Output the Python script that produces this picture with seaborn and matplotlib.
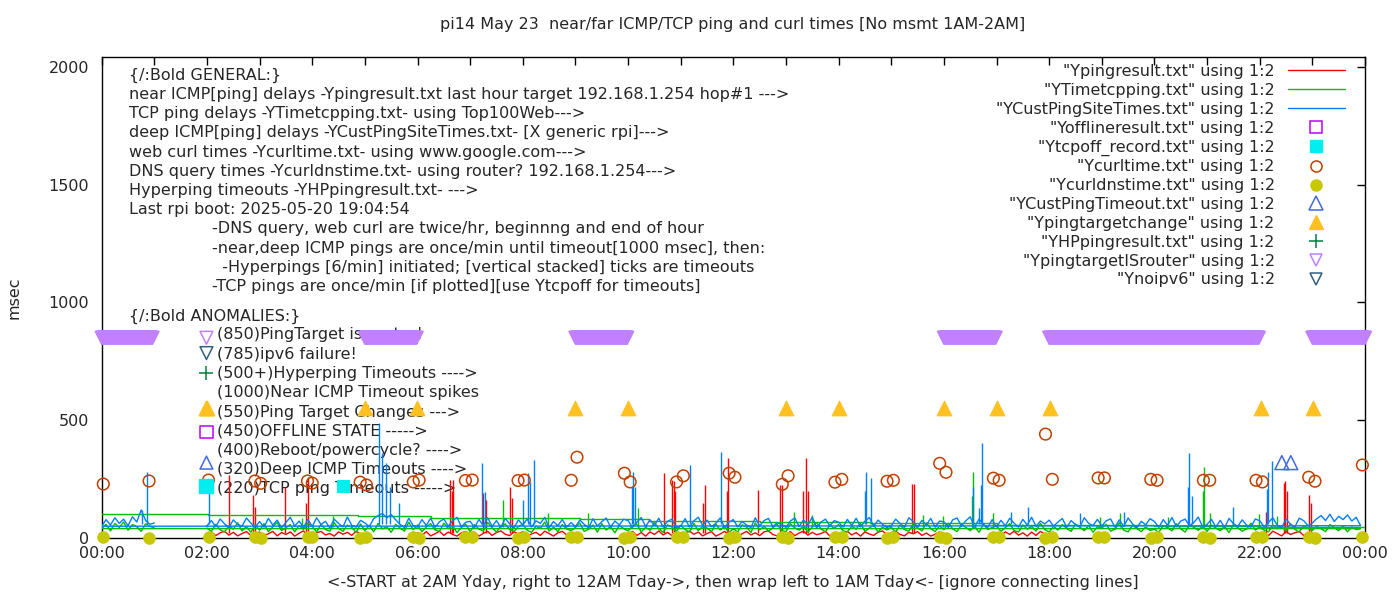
import numpy as np
import pandas as pd
import matplotlib
matplotlib.use('Agg')
import matplotlib.pyplot as plt
from matplotlib.lines import Line2D
import seaborn as sns

W, H = 1400, 600

# -----------------------------------------------------------------------------
# Data (hours of day, msec)
# -----------------------------------------------------------------------------
STEP_MIN = 5  # line series are sampled every 5 minutes

# near ICMP ping (red), one row per hour 02..23, None = no data (target is router)
near_rows = [
    [14, 26, 10, 22, 29, 12, 24, 9, 19, 27, 11, 21],
    [25, 11, 18, 28, 9, 23, 15, 26, 8, 20, 30, 13],
    [10, 22, 28, 13, 19, 8, 26, 16, 24, 11, 29, 17],
    None,
    [23, 12, 27, 9, 18, 29, 11, 25, 15, 8, 22, 28],
    [13, 25, 8, 20, 28, 11, 23, 30, 16, 10, 26, 18],
    [27, 9, 17, 24, 11, 29, 19, 8, 22, 28, 13, 25],
    None,
    [18, 28, 11, 23, 8, 26, 15, 30, 13, 24, 10, 21],
    [11, 22, 29, 16, 25, 9, 19, 27, 8, 17, 28, 12],
    [25, 8, 18, 28, 13, 22, 10, 26, 30, 15, 9, 20],
    [16, 27, 10, 21, 29, 12, 24, 14, 19, 28, 8, 22],
    [9, 20, 28, 13, 23, 8, 26, 17, 11, 25, 30, 14],
    [22, 29, 15, 9, 24, 18, 27, 11, 21, 8, 16, 26],
    None,
    [19, 9, 26, 15, 29, 12, 22, 8, 25, 11, 28, 17],
    None, None, None, None,
    [12, 25, 10, 29, 19, 9, 27, 15, 22, 28, 11, 24],
    None,
]
near_spike_h = [2.42, 2.88, 2.92, 3.48, 3.88, 3.91, 6.62, 6.65, 6.68, 7.24, 7.30, 7.76,
                7.79, 10.69, 10.83, 10.87, 10.90, 11.42, 11.46, 11.88, 11.90, 12.47,
                12.89, 12.92, 13.33, 13.38, 13.42, 15.39, 15.43, 22.12, 22.46, 22.48,
                22.51, 22.94, 22.97]
near_spike_ms = [268, 183, 133, 218, 150, 261, 246, 200, 246, 190, 160, 218,
                 170, 276, 245, 240, 200, 150, 225, 200, 339, 204,
                 225, 225, 199, 339, 200, 230, 230, 112, 233, 240,
                 200, 183, 150]

# TCP ping (green): today 00:00..01:00, then yesterday rows 02..23
tcp_tday = [40, 58, 30, 62, 45, 68, 33, 57, 48, 28, 60, 50, 42]
tcp_rows = [
    [42, 28, 58, 35, 25, 52, 38, 64, 30, 49, 24, 56],
    [33, 61, 27, 47, 66, 31, 44, 57, 26, 53, 37, 63],
    [50, 25, 59, 36, 29, 65, 41, 28, 55, 46, 23, 60],
    [31, 54, 26, 62, 39, 48, 24, 58, 43, 29, 67, 35],
    [55, 27, 47, 61, 34, 28, 63, 40, 52, 23, 45, 58],
    [26, 57, 38, 30, 66, 44, 25, 51, 60, 36, 28, 49],
    [59, 33, 24, 50, 41, 68, 29, 46, 27, 57, 39, 31],
    [45, 64, 28, 37, 55, 25, 61, 34, 48, 22, 53, 40],
    [30, 52, 58, 26, 45, 33, 67, 39, 24, 56, 47, 28],
    [54, 36, 25, 62, 31, 49, 42, 27, 59, 34, 51, 23],
    [39, 26, 56, 47, 23, 64, 35, 50, 29, 44, 58, 32],
    [27, 60, 43, 33, 53, 24, 48, 66, 38, 26, 55, 41],
    [57, 31, 26, 50, 38, 62, 28, 42, 56, 25, 46, 34],
    [46, 24, 55, 36, 29, 59, 43, 30, 64, 40, 27, 52],
    [35, 63, 39, 27, 56, 45, 31, 51, 24, 58, 37, 44],
    [52, 28, 44, 61, 32, 25, 55, 38, 49, 29, 62, 36],
    [25, 50, 34, 57, 41, 28, 60, 46, 31, 53, 24, 48],
    [43, 58, 29, 38, 65, 33, 26, 54, 40, 27, 47, 32],
    [37, 24, 53, 44, 30, 61, 39, 25, 56, 45, 33, 50],
    [28, 55, 42, 31, 49, 23, 58, 44, 29, 38, 63, 34],
    [48, 33, 26, 56, 40, 51, 30, 60, 37, 25, 53, 41],
    [32, 50, 39, 27, 57, 44, 31, 52, 26, 47, 36, 40],
]
tcp_spike_h = [3.80, 4.40, 7.63, 8.48, 9.24, 10.19, 13.16, 13.50, 15.60, 15.98, 16.54,
               16.56, 16.93, 18.96, 19.34, 20.26, 20.93, 20.95, 21.05, 21.99, 22.33]
tcp_spike_ms = [85, 95, 161, 106, 106, 127, 112, 98, 98, 95, 180,
                282, 106, 90, 106, 90, 200, 303, 106, 100, 95]
# stepped connecting lines of the TCP file
tcp_wrap_h = [0.0, 0.65, 2.02, 4.87, 6.26, 9.08, 10.4, 12.5, 14.6, 17.0, 20.0, 22.0, 24.0]
tcp_wrap_ms = [104, 101, 96, 92, 86, 80, 72, 67, 62, 55, 50, 45, 45]

# deep ICMP ping (blue): today 00:00..01:00, then yesterday rows 02..23
cust_tday = [50, 78, 55, 86, 62, 80, 52, 90, 68, 119, 75, 58, 64]
cust_rows = [
    [52, 74, 48, 81, 60, 45, 77, 58, 50, 85, 63, 47],
    [70, 46, 83, 55, 76, 44, 66, 88, 51, 72, 45, 79],
    [49, 86, 57, 71, 43, 80, 62, 47, 89, 54, 46, 75],
    [64, 48, 82, 95, 104, 86, 99, 78, 58, 44, 84, 53],
    [46, 78, 54, 84, 45, 69, 81, 50, 73, 88, 47, 67],
    [71, 44, 79, 52, 86, 49, 74, 45, 83, 60, 43, 77],
    [55, 81, 47, 73, 62, 88, 44, 70, 52, 79, 46, 66],
    [48, 76, 58, 43, 82, 51, 69, 85, 47, 72, 55, 80],
    [74, 45, 67, 87, 49, 77, 53, 84, 46, 71, 80, 44],
    [50, 82, 46, 73, 88, 54, 76, 48, 62, 85, 45, 68],
    [78, 47, 70, 55, 44, 86, 51, 74, 83, 48, 65, 57],
    [45, 72, 85, 49, 77, 56, 89, 43, 68, 80, 52, 74],
    [67, 46, 79, 53, 84, 47, 71, 87, 50, 76, 58, 44],
    [53, 80, 62, 45, 86, 70, 48, 75, 56, 83, 46, 72],
    [69, 44, 77, 85, 51, 73, 90, 47, 80, 58, 45, 78],
    [47, 75, 52, 84, 63, 46, 79, 55, 88, 49, 72, 60],
    [76, 50, 68, 83, 45, 74, 57, 47, 86, 62, 53, 79],
    [51, 73, 81, 46, 77, 49, 85, 60, 44, 71, 56, 82],
    [70, 45, 78, 54, 87, 48, 72, 80, 52, 66, 89, 46],
    [58, 79, 47, 75, 44, 83, 61, 50, 77, 55, 46, 81],
    [73, 48, 66, 86, 53, 45, 80, 59, 47, 84, 74, 52],
    [64, 82, 95, 74, 101, 70, 92, 78, 98, 72, 88, 52],
]
cust_spike_h = [0.76, 0.855, 2.04, 5.27, 5.32, 5.41, 5.48, 5.65, 7.22, 7.28, 8.01, 8.10,
                8.14, 8.22, 10.07, 10.09, 10.13, 11.18, 11.76, 14.50, 14.52, 14.61,
                16.56, 16.67, 16.70, 16.72, 17.27, 17.60, 18.59, 19.43, 20.64, 20.66,
                20.71, 21.49, 22.14, 22.16, 22.24]
cust_spike_ms = [119, 282, 225, 489, 361, 318, 218, 149, 318, 197, 161, 276,
                 239, 331, 218, 282, 218, 310, 367, 200, 282, 254,
                 218, 127, 225, 402, 110, 133, 106, 110, 215, 360,
                 180, 130, 210, 282, 329]

# web curl times (open circles) and DNS query times (filled circles)
curl_h = [0.03, 0.90, 2.03, 2.91, 3.02, 3.91, 4.00, 4.91, 5.03, 5.92, 6.03, 6.91, 7.04,
          7.91, 8.03, 8.92, 9.03, 9.93, 10.04, 10.92, 11.05, 11.92, 12.03, 12.93, 13.04,
          13.93, 14.06, 14.92, 15.04, 15.92, 16.04, 16.94, 17.05, 17.93, 18.06, 18.93,
          19.05, 19.93, 20.05, 20.93, 21.05, 21.93, 22.05, 22.93, 23.05, 23.95]
curl_ms = [229, 242, 246, 242, 232, 242, 233, 237, 225, 238, 246, 244, 246,
           244, 246, 245, 343, 275, 238, 238, 264, 275, 258, 228, 264,
           237, 249, 241, 245, 317, 279, 254, 245, 441, 249, 255,
           255, 249, 245, 245, 245, 245, 238, 258, 241, 310]
dns_ms = [3, 2, 4, 3, 2, 3, 4, 2, 3, 3, 2, 4, 3,
          2, 3, 4, 3, 2, 3, 3, 4, 2, 3, 3, 2,
          4, 3, 2, 3, 3, 2, 4, 3, 2, 3, 3,
          4, 2, 3, 3, 2, 3, 4, 3, 2, 3]

tcpoff_h, tcpoff_ms = [4.59], [220]
custtimeout_h, custtimeout_ms = [22.42, 22.59], [320, 320]
target_change_h = [2.0, 5.0, 5.99, 9.0, 10.0, 13.0, 14.0, 16.0, 17.01, 18.01, 22.02, 23.01]
target_change_ms = [550] * len(target_change_h)

# ping target is router: once per minute inside these spans (minutes of day)
router_on_min = [0, 300, 540, 960, 1080, 1380]
router_off_min = [58, 359, 599, 1019, 1319, 1440]
router_ms = 850

# key symbols in front of the anomaly notes
anomaly_key_h = 1.99
anomaly_key_ms = [850, 785, 700, 550, 450, 320, 220]

title = "pi14 May 23  near/far ICMP/TCP ping and curl times [No msmt 1AM-2AM]"
xlabel = ("<-START at 2AM Yday, right to 12AM Tday->, then wrap left to 1AM Tday<- "
          "[ignore connecting lines]")
general_notes = [
    "{/:Bold GENERAL:}",
    "near ICMP[ping] delays -Ypingresult.txt last hour target 192.168.1.254 hop#1 --->",
    "TCP ping delays -YTimetcpping.txt- using Top100Web--->",
    "deep ICMP[ping] delays -YCustPingSiteTimes.txt- [X generic rpi]--->",
    "web curl times -Ycurltime.txt- using www.google.com--->",
    "DNS query times -Ycurldnstime.txt- using router? 192.168.1.254--->",
    "Hyperping timeouts -YHPpingresult.txt- --->",
    "Last rpi boot: 2025-05-20 19:04:54",
    "-DNS query, web curl are twice/hr, beginnng and end of hour",
    "-near,deep ICMP pings are once/min until timeout[1000 msec], then:",
    "  -Hyperpings [6/min] initiated; [vertical stacked] ticks are timeouts",
    "-TCP pings are once/min [if plotted][use Ytcpoff for timeouts]",
]
anomaly_notes = [
    "(850)PingTarget is router!",
    "(785)ipv6 failure!",
    "(500+)Hyperping Timeouts ---->",
    "(1000)Near ICMP Timeout spikes",
    "(550)Ping Target Changes --->",
    "(450)OFFLINE STATE ----->",
    "(400)Reboot/powercycle? ---->",
    "(320)Deep ICMP Timeouts ---->",
    "(220)TCP ping Timeouts ----->",
]

# gnuplot classic colours
C_RED, C_GREEN, C_BLUE = '#ff0000', '#00c000', '#0080ff'
C_MAG, C_CYAN, C_BROWN, C_OLIVE = '#c000ff', '#00eeee', '#c04000', '#c8c800'
C_ROYAL, C_GOLD, C_DKGREEN, C_LAV, C_SLATE = '#4169e1', '#ffc020', '#008040', '#c080ff', '#306080'

# -----------------------------------------------------------------------------
# Build frames
# -----------------------------------------------------------------------------
def grid(start_h, n):
    return start_h + np.arange(n) * STEP_MIN / 60.0


def rows_to_values(rows):
    vals = []
    for r in rows:
        vals.extend([np.nan] * 12 if r is None else r)
    return np.array(vals, dtype=float)


near_vals = rows_to_values(near_rows)
near_df = pd.DataFrame({'h': grid(2, len(near_vals)), 'ms': near_vals})
near_df['seg'] = near_df['ms'].isna().cumsum()
near_df = near_df.dropna()

# file order: yesterday 02:00..23:55 then today 00:00..01:00
tcp_vals = rows_to_values(tcp_rows)
tcp_df = pd.DataFrame({'h': np.concatenate([grid(2, len(tcp_vals)), grid(0, len(tcp_tday))]),
                       'ms': np.concatenate([tcp_vals, tcp_tday])})
cust_vals = rows_to_values(cust_rows)
cust_df = pd.DataFrame({'h': np.concatenate([grid(2, len(cust_vals)), grid(0, len(cust_tday))]),
                        'ms': np.concatenate([cust_vals, cust_tday])})

router_h = np.concatenate([np.arange(a, b + 1) / 60.0 for a, b in zip(router_on_min, router_off_min)])

# -----------------------------------------------------------------------------
# Plot
# -----------------------------------------------------------------------------
FS = 11.5
sns.set_style('white')
plt.rcParams['font.family'] = ['DejaVu Sans']
plt.rcParams['font.size'] = FS

fig = plt.figure(figsize=(W / 100, H / 100), dpi=100)
x0, x1, y0, y1 = 101.7, 1365, 57, 538
ax = fig.add_axes([x0 / W, 1 - y1 / H, (x1 - x0) / W, (y1 - y0) / H])

lw = 1.0
slw = 1.0
sns.lineplot(data=near_df, x='h', y='ms', units='seg', estimator=None, sort=False,
             color=C_RED, lw=lw, ax=ax, legend=False, zorder=2)
ax.vlines(near_spike_h, 20, near_spike_ms, color=C_RED, lw=slw, zorder=2)

sns.lineplot(data=tcp_df, x='h', y='ms', estimator=None, sort=False,
             color=C_GREEN, lw=lw, ax=ax, legend=False, zorder=3)
sns.lineplot(x=tcp_wrap_h, y=tcp_wrap_ms, drawstyle='steps-post', estimator=None,
             color=C_GREEN, lw=lw, ax=ax, legend=False, zorder=3)
ax.vlines(tcp_spike_h, 45, tcp_spike_ms, color=C_GREEN, lw=slw, zorder=3)

sns.lineplot(data=cust_df, x='h', y='ms', estimator=None, sort=False,
             color=C_BLUE, lw=lw, ax=ax, legend=False, zorder=4)
ax.vlines(cust_spike_h, 60, cust_spike_ms, color=C_BLUE, lw=slw, zorder=4)

pts = dict(ax=ax, legend=False, clip_on=False, zorder=5)
sns.scatterplot(x=tcpoff_h, y=tcpoff_ms, marker='s', s=81, color=C_CYAN, edgecolor=C_CYAN, **pts)
sns.scatterplot(x=curl_h, y=curl_ms, marker='o', s=70, facecolor='none', edgecolor=C_BROWN,
                linewidth=1.1, **pts)
sns.scatterplot(x=curl_h, y=dns_ms, marker='o', s=70, color=C_OLIVE, edgecolor=C_OLIVE, **pts)
sns.scatterplot(x=custtimeout_h, y=custtimeout_ms, marker='^', s=100, facecolor='none',
                edgecolor=C_ROYAL, linewidth=1.1, **pts)
sns.scatterplot(x=target_change_h, y=target_change_ms, marker='^', s=110, color=C_GOLD,
                edgecolor=C_GOLD, **pts)
sns.scatterplot(x=router_h, y=[router_ms] * len(router_h), marker='v', s=85, facecolor='none',
                edgecolor=C_LAV, linewidth=1.1, **pts)

# key symbols for the anomaly notes
key_styles = [('v', C_LAV, False), ('v', C_SLATE, False), ('+', C_DKGREEN, None),
              ('^', C_GOLD, True), ('s', C_MAG, False), ('^', C_ROYAL, False), ('s', C_CYAN, True)]
for val, (m, c, filled) in zip(anomaly_key_ms, key_styles):
    if filled is None:
        ax.scatter([anomaly_key_h], [val], marker=m, s=90, color=c, linewidth=1.1, zorder=5, clip_on=False)
    elif filled:
        ax.scatter([anomaly_key_h], [val], marker=m, s=90 if m == 's' else 110, color=c, zorder=5, clip_on=False)
    else:
        ax.scatter([anomaly_key_h], [val], marker=m, s=85, facecolor='none', edgecolor=c,
                   linewidth=1.1, zorder=5, clip_on=False)

# notes
for k, line in enumerate(general_notes):
    px = 129 if k < 8 else 212
    ax.text(px / W, 1 - (75 + k * 19.25) / H, line, transform=fig.transFigure,
            va='center', ha='left', fontsize=FS, zorder=1)
ax.text(129 / W, 1 - 316 / H, "{/:Bold ANOMALIES:}", transform=fig.transFigure,
        va='center', ha='left', fontsize=FS, zorder=1)
for k, line in enumerate(anomaly_notes):
    ax.text(217 / W, 1 - (335 + k * 19.25) / H, line, transform=fig.transFigure,
            va='center', ha='left', fontsize=FS, zorder=1)

# axes
ax.set_xlim(0, 24)
ax.set_ylim(0, 2042)
ax.set_xticks(range(0, 25, 2))
ax.set_xticklabels([f"{h % 24:02d}:00" for h in range(0, 25, 2)])
ax.set_xticks(range(0, 25), minor=True)
ax.set_yticks([0, 500, 1000, 1500, 2000])
ax.tick_params(which='both', direction='in', top=True, right=True, length=6, width=1,
               labelsize=FS, color='black')
ax.tick_params(axis='x', pad=6)
ax.tick_params(axis='y', pad=9)
ax.set_xlabel('')
ax.set_ylabel('')
for sp in ax.spines.values():
    sp.set_color('black')
    sp.set_linewidth(1)

fig.text(733 / W, 1 - 25 / H, title, ha='center', va='center', fontsize=FS)
fig.text(733 / W, 1 - 583 / H, xlabel, ha='center', va='center', fontsize=FS)
fig.text(14 / W, 1 - 298 / H, 'msec', ha='center', va='center', rotation=90, fontsize=FS)

# legend
handles = [
    Line2D([], [], color=C_RED, lw=lw),
    Line2D([], [], color=C_GREEN, lw=lw),
    Line2D([], [], color=C_BLUE, lw=lw),
    Line2D([], [], ls='none', marker='s', ms=9, mfc='none', mec=C_MAG, mew=1.1),
    Line2D([], [], ls='none', marker='s', ms=9, color=C_CYAN),
    Line2D([], [], ls='none', marker='o', ms=8, mfc='none', mec=C_BROWN, mew=1.1),
    Line2D([], [], ls='none', marker='o', ms=8, color=C_OLIVE),
    Line2D([], [], ls='none', marker='^', ms=10, mfc='none', mec=C_ROYAL, mew=1.1),
    Line2D([], [], ls='none', marker='^', ms=10.5, color=C_GOLD),
    Line2D([], [], ls='none', marker='+', ms=9.5, color=C_DKGREEN, mew=1.1),
    Line2D([], [], ls='none', marker='v', ms=9.2, mfc='none', mec=C_LAV, mew=1.1),
    Line2D([], [], ls='none', marker='v', ms=9.2, mfc='none', mec=C_SLATE, mew=1.1),
]
labels = ['"Ypingresult.txt" using 1:2', '"YTimetcpping.txt" using 1:2',
          '"YCustPingSiteTimes.txt" using 1:2', '"Yofflineresult.txt" using 1:2',
          '"Ytcpoff_record.txt" using 1:2', '"Ycurltime.txt" using 1:2',
          '"Ycurldnstime.txt" using 1:2', '"YCustPingTimeout.txt" using 1:2',
          '"Ypingtargetchange" using 1:2', '"YHPpingresult.txt" using 1:2',
          '"YpingtargetISrouter" using 1:2', '"Ynoipv6" using 1:2']
ax.legend(handles, labels, loc='upper right', markerfirst=False, frameon=False,
          bbox_to_anchor=((1345 - x0) / (x1 - x0), (y1 - 64) / (y1 - y0)),
          borderaxespad=0, borderpad=0, handlelength=3.6, handletextpad=0.8,
          labelspacing=0.24, fontsize=FS)

fig.savefig('out.png', dpi=100)
